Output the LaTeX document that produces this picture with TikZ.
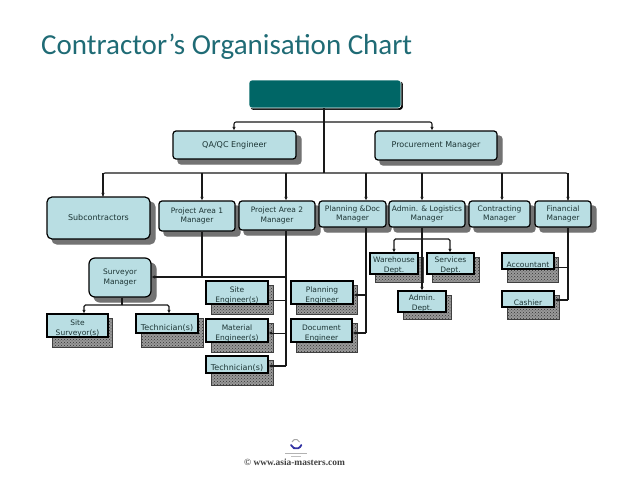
\documentclass[tikz,border=0pt]{standalone}
\usepackage{fontspec}
\setmainfont{DejaVu Sans}
\newfontfamily\titlefont{Carlito}
\newfontfamily\footfont{Liberation Serif}
\usepackage{tikz}
\usetikzlibrary{arrows.meta,calc,shadows,patterns}
\definecolor{boxfill}{HTML}{B9DEE3}
\definecolor{topfill}{HTML}{006666}
\definecolor{titleteal}{HTML}{1F6B75}
\definecolor{labelink}{HTML}{1C3434}

\begin{document}
\begin{tikzpicture}[
		x=1pt,
		y=-1pt,
		>={Latex[length=3.5pt,width=3.5pt]},
		font=\fontsize{7.5}{9.5}\selectfont,
		conn/.style={draw=black!90, line width=1.1pt},
		bigtext/.style={font=\fontsize{8}{9.5}\selectfont},
		upbox/.style={rectangle, rounded corners=3pt, draw=black, line width=1.2pt, fill=boxfill,
			text=labelink, align=center, inner sep=0pt,
			copy shadow={shadow xshift=5pt, shadow yshift=-5pt, fill=black!55, draw=black!55}},
		lowbox/.style={rectangle, draw=black, line width=1.2pt, fill=boxfill,
			text=labelink, align=center, inner sep=0pt},
		twolines/.style={text height=#1, text depth=0pt},
		lowshade/.style={preaction={fill=black!40}, pattern=crosshatch dots, pattern color=black!80, draw=black!75, line width=1pt}
		]
		
		\useasboundingbox (0,0) rectangle (638,479);
		
		% title
		\node[anchor=west, inner sep=0pt, text=titleteal, font=\titlefont\fontsize{29}{29}\selectfont] (title) at (41,47)
		{Contractor’s Organisation Chart};
		
		% top of the chart
		\node[rectangle, rounded corners=3pt, draw=white, line width=.6pt, fill=topfill, minimum width=152pt, minimum height=28pt,
			copy shadow={shadow xshift=1.6pt, shadow yshift=-1.6pt, fill=black, draw=black}] (head) at (325,94) {};
		\node[upbox, bigtext, minimum width=123pt, minimum height=28pt] (qaqc) at (234.5,145) {QA/QC Engineer};
		\node[upbox, bigtext, minimum width=122pt, minimum height=29pt] (procure) at (436,145.5) {Procurement Manager};
		
		% managers
		\node[upbox, bigtext, rounded corners=5pt, minimum width=103pt, minimum height=42pt] (subcon) at (98.5,218) {Subcontractors};
		\node[upbox, minimum width=76pt, minimum height=30pt] (areaone) at (197,216) {Project Area 1\\Manager};
		\node[upbox, minimum width=76pt, minimum height=29pt] (areatwo) at (277,215.5) {Project Area 2\\Manager};
		\node[upbox, minimum width=67pt, minimum height=26pt] (plandoc) at (352.5,214) {Planning \&Doc\\Manager};
		\node[upbox, minimum width=76pt, minimum height=26pt] (logist) at (427,214) {Admin. \& Logistics\\Manager};
		\node[upbox, minimum width=61pt, minimum height=26pt] (contract) at (499.5,214) {Contracting\\Manager};
		\node[upbox, minimum width=56pt, minimum height=26pt] (finance) at (563,214) {Financial\\Manager};
		\node[upbox, rounded corners=6pt, minimum width=62pt, minimum height=39pt] (surveyor) at (120,277.5) {Surveyor\\Manager};
		
		% lower boxes, each on its own shade
		\path[lowshade] (52,318) rectangle (112,347);
		\node[lowbox, twolines=19pt, minimum width=61pt, minimum height=23pt] (sitesurv) at (77.5,325.5) {Site\\Surveyor(s)};
		\path[lowshade] (141,318) rectangle (203,347);
		\node[lowbox, bigtext, minimum width=62pt, minimum height=19pt, text height=15pt] (techleft) at (167,323.5) {Technician(s)};
		\path[lowshade] (211,285) rectangle (273,314);
		\node[lowbox, twolines=19pt, minimum width=62pt, minimum height=23pt] (siteeng) at (237,292.5) {Site\\Engineer(s)};
		\path[lowshade] (211,323) rectangle (273,352);
		\node[lowbox, twolines=19pt, minimum width=62pt, minimum height=23pt] (matl) at (237,330.5) {Material\\Engineer(s)};
		\path[lowshade] (211,360) rectangle (273,385);
		\node[lowbox, bigtext, minimum width=62pt, minimum height=17pt, text height=14pt] (techmid) at (237,364.5) {Technician(s)};
		\path[lowshade] (296,285) rectangle (357,314);
		\node[lowbox, twolines=19pt, minimum width=62pt, minimum height=23pt] (planeng) at (322,292.5) {Planning\\Engineer};
		\path[lowshade] (296,323) rectangle (357,352);
		\node[lowbox, twolines=19pt, minimum width=61pt, minimum height=23pt] (doceng) at (321.5,330.5) {Document\\Engineer};
		\path[lowshade] (375,257) rectangle (423,282);
		\node[lowbox, twolines=17pt, minimum width=48pt, minimum height=21pt] (wareh) at (394,263.5) {Warehouse\\Dept.};
		\path[lowshade] (432,257) rectangle (479,282);
		\node[lowbox, twolines=17pt, minimum width=47pt, minimum height=21pt] (services) at (450.5,263.5) {Services\\Dept.};
		\path[lowshade] (403,295) rectangle (451,319);
		\node[lowbox, twolines=17pt, minimum width=48pt, minimum height=21pt] (admin) at (422,301.5) {Admin.\\Dept.};
		\path[lowshade] (507,257) rectangle (558,282);
		\node[lowbox, minimum width=52pt, minimum height=16pt, text height=13pt] (account) at (528,261) {Accountant};
		\path[lowshade] (507,295) rectangle (559,319);
		\node[lowbox, minimum width=52pt, minimum height=16pt, text height=13pt] (cashier) at (528,299) {Cashier};
		
		% head to the two staff boxes
		\coordinate (headbus) at (324,122);
		\coordinate (qabus) at (234,122);
		\coordinate (probus) at (432,122);
		\draw[conn] (headbus |- head.south) -- ($(headbus)+(0,51)$);
		\draw[conn, ->, rounded corners=2pt] (headbus) -- (qabus) -- (qabus |- qaqc.north);
		\draw[conn, ->, rounded corners=2pt] (headbus) -- (probus) -- (probus |- procure.north);
		
		% main bus
		\coordinate (subbus) at (103,173);
		\coordinate (onebus) at (202,173);
		\coordinate (twobus) at (286,173);
		\coordinate (planbus) at (366,173);
		\coordinate (logbus) at (422,173);
		\coordinate (conbus) at (502,173);
		\coordinate (finbus) at (568,173);
		\draw[conn, rounded corners=2pt] (subbus |- subcon.north) -- (subbus) -- (finbus) -- (finbus |- finance.north);
		\draw[conn, ->] (subbus) -- (subbus |- subcon.north);
		\draw[conn, ->] (onebus) -- (onebus |- areaone.north);
		\draw[conn, ->] (twobus) -- (twobus |- areatwo.north);
		\draw[conn, ->] (planbus) -- (planbus |- plandoc.north);
		\draw[conn, ->] (logbus) -- (logbus |- logist.north);
		\draw[conn, ->] (conbus) -- (conbus |- contract.north);
		\draw[conn, ->] (finbus) -- (finbus |- finance.north);
		
		% project areas
		\coordinate (survjoin) at (286,277);
		\coordinate (sitejoin) at (286,300);
		\coordinate (matjoin) at (286,333);
		\coordinate (techjoin) at (286,366);
		\draw[conn] (onebus |- areaone.south) -- (onebus |- survjoin);
		\draw[conn] (twobus |- areatwo.south) -- (techjoin);
		\draw[conn, ->] (survjoin) -- (surveyor.east |- survjoin);
		\draw[conn, line width=.8pt] (sitejoin) -- (siteeng.east |- sitejoin);
		\draw[conn, ->, line width=.8pt] (matjoin) -- (matl.east |- matjoin);
		\draw[conn, ->] (techjoin) -- (techmid.east |- techjoin);
		
		% surveyor
		\coordinate (survbus) at (122,305);
		\coordinate (sitebus) at (84,305);
		\coordinate (techbus) at (169,305);
		\draw[conn, line width=1.4pt] (survbus |- surveyor.south) -- (survbus);
		\draw[conn, ->, rounded corners=1.5pt] (survbus) -- (sitebus) -- (sitebus |- sitesurv.north);
		\draw[conn, ->, rounded corners=1.5pt] (survbus) -- (techbus) -- (techbus |- techleft.north);
		
		% planning
		\coordinate (planjoin) at (366,295);
		\coordinate (docjoin) at (366,333);
		\draw[conn] (planbus |- plandoc.south) -- (docjoin);
		\draw[conn, ->] (planjoin) -- (planeng.east |- planjoin);
		\draw[conn, ->] (docjoin) -- (doceng.east |- docjoin);
		
		% logistics
		\coordinate (logjoin) at (422,239);
		\coordinate (warebus) at (394,239);
		\coordinate (servbus) at (450,239);
		\draw[conn, ->] (logbus |- logist.south) -- (logbus |- admin.north);
		\draw[conn, ->, rounded corners=1.5pt] (logjoin) -- (warebus) -- (warebus |- wareh.north);
		\draw[conn, ->, rounded corners=1.5pt] (logjoin) -- (servbus) -- (servbus |- services.north);
		
		% finance
		\coordinate (accjoin) at (568,267);
		\coordinate (cashjoin) at (568,300);
		\draw[conn] (finbus |- finance.south) -- (cashjoin);
		\draw[conn, line width=.8pt] (accjoin) -- (account.east |- accjoin);
		\draw[conn, ->] (cashjoin) -- (cashier.east |- cashjoin);
		
		% footer
		\draw[line width=1.8pt, draw=blue!55!black!80, line cap=round] (291,445) arc[start angle=200, end angle=340, radius=5.5pt];
		\draw[line width=1pt, draw=gray!70] (292,442) arc[start angle=160, end angle=20, radius=4pt];
		\draw[line width=1pt, draw=gray!60] (285,453) -- (307,453);
		\draw[line width=.7pt, draw=gray!50] (291,456) -- (301,456);
		\node[inner sep=0pt, text=black!75, font=\footfont\bfseries\fontsize{9.4}{9.4}\selectfont] (footer) at (294.5,462) {© www.asia-masters.com};
		
	\end{tikzpicture}
\end{document}
